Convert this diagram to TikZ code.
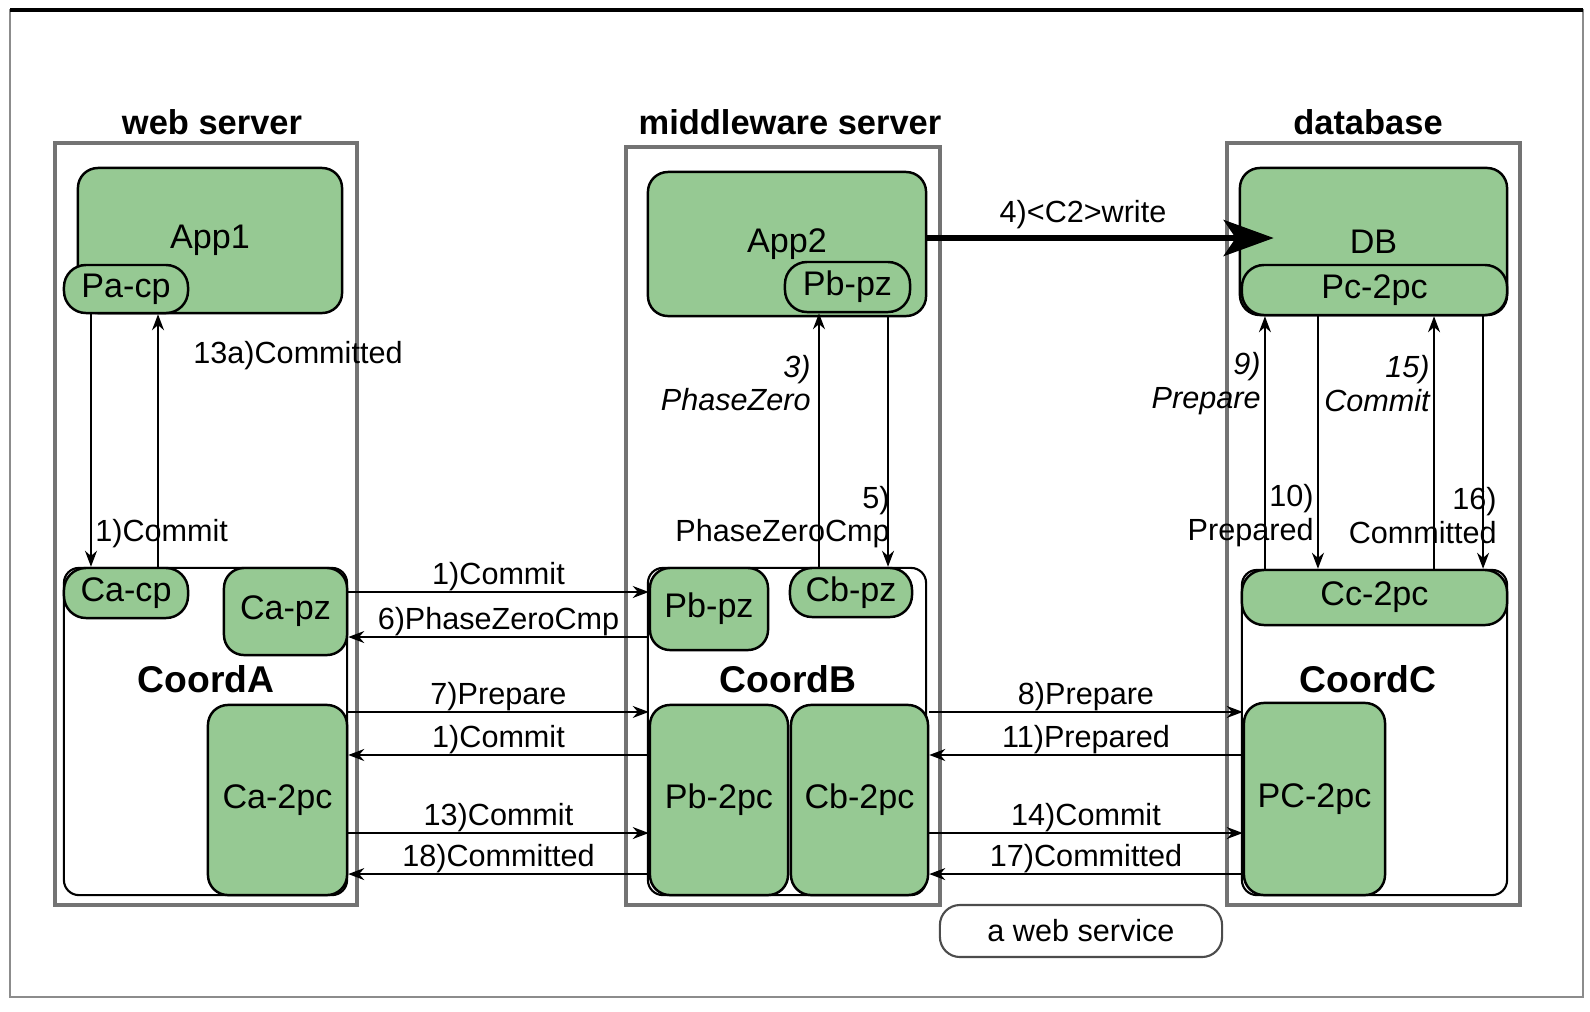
\documentclass[tikz,border=0pt]{standalone}
\usepackage{fontspec}
\setmainfont{Liberation Sans}
\usetikzlibrary{arrows.meta}

\definecolor{compgreen}{RGB}{150,201,147}

\tikzset{
	server/.style={draw=black!55, line width=1pt, inner sep=0pt},
	coord/.style={draw, fill=white, rounded corners=1.5mm, line width=0.6pt, inner sep=0pt},
	comp/.style={draw, fill=compgreen, rounded corners=2mm, line width=0.7pt, inner sep=0pt, font=\fontsize{9.7}{11}\selectfont},
	pill/.style={comp, rounded corners=2.2mm},
	msg/.style={-{Stealth[length=1.6mm,width=1.2mm]}, line width=0.5pt},
	bigmsg/.style={-{Stealth[length=5mm,width=3.6mm,inset=1.2mm]}, line width=1.6pt},
	lbl/.style={inner sep=1pt, font=\fontsize{8.7}{9.5}\selectfont},
	ital/.style={lbl, font=\fontsize{8.7}{9.5}\selectfont\itshape},
	head/.style={font=\bfseries\fontsize{9.8}{11}\selectfont},
	coordname/.style={font=\bfseries\fontsize{10.6}{12}\selectfont}
}

\begin{document}
\begin{tikzpicture}[x=0.01cm, y=-0.01cm]

	\useasboundingbox (0,0) rectangle (1590,1011);
	\draw[black!45, line width=0.8pt] (10,10) rectangle (1583,997);
	\draw[line width=1.3pt] (10,10) -- (1583,10);

	% servers
	\node (web) [server, minimum width=30.2mm, minimum height=76.2mm] at (206,524) {};
	\node (mid) [server, minimum width=31.4mm, minimum height=75.8mm] at (783,526) {};
	\node (dbs) [server, minimum width=29.3mm, minimum height=76.2mm] at (1373.5,524) {};
	\node (webhead) [head] at (212,122) {web server};
	\node (midhead) [head] at (790,122) {middleware server};
	\node (dbhead) [head] at (1368,122) {database};

	% coordinators
	\node (coorda) [coord, minimum width=28.3mm, minimum height=32.7mm] at (205.5,731.5) {};
	\node (coordb) [coord, minimum width=27.8mm, minimum height=32.7mm] at (787,731.5) {};
	\node (coordc) [coord, minimum width=26.5mm, minimum height=32.5mm] at (1374.5,732.5) {};
	\node (coordaname) [coordname] at (206,679) {CoordA};
	\node (coordbname) [coordname] at (788,679) {CoordB};
	\node (coordcname) [coordname] at (1368,679) {CoordC};

	% web server parts
	\node (app1) [comp, minimum width=26.4mm, minimum height=14.5mm] at (210,240.5) {App1};
	\node (pacp) [pill, minimum width=12.4mm, minimum height=4.8mm] at (126,289) {Pa-cp};
	\node (cacp) [pill, minimum width=12.4mm, minimum height=5mm] at (126,593) {Ca-cp};
	\node (capz) [comp, minimum width=12.3mm, minimum height=8.7mm] at (285.5,611.5) {Ca-pz};
	\node (ca2pc) [comp, minimum width=13.9mm, minimum height=19mm] at (277.5,800) {Ca-2pc};

	% middleware server parts
	\node (app2) [comp, minimum width=27.8mm, minimum height=14.4mm] at (787,244) {App2};
	\node (pbpzapp) [pill, minimum width=12.5mm, minimum height=5mm] at (847.5,287) {Pb-pz};
	\node (pbpz) [comp, minimum width=11.8mm, minimum height=8.2mm] at (709,609) {Pb-pz};
	\node (cbpz) [pill, minimum width=12.2mm, minimum height=4.9mm] at (851,592.5) {Cb-pz};
	\node (pb2pc) [comp, minimum width=13.8mm, minimum height=19mm] at (719,800) {Pb-2pc};
	\node (cb2pc) [comp, minimum width=13.7mm, minimum height=19mm] at (859.5,800) {Cb-2pc};

	% database parts
	\node (db) [comp, minimum width=26.7mm, minimum height=14.7mm] at (1373.5,241.5) {DB};
	\node (pc2pc) [pill, minimum width=26.5mm, minimum height=5mm] at (1374.5,290) {Pc-2pc};
	\node (cc2pc) [pill, minimum width=26.5mm, minimum height=5.5mm] at (1374.5,597.5) {Cc-2pc};
	\node (pc2pcc) [comp, minimum width=14.1mm, minimum height=19.2mm] at (1314.5,799) {PC-2pc};

	\node (websvc) [coord, draw=black!70, rounded corners=2mm, minimum width=28.2mm, minimum height=5.2mm, font=\fontsize{8.7}{10}\selectfont] at (1081,931) {a web service};

	% vertical messages
	\draw[msg] ([xshift=-3.5mm]pacp.south) -- ([xshift=-3.5mm]pacp.south |- cacp.north)
		node[lbl, pos=0.867, anchor=west] {1)Commit};
	\draw[msg] ([xshift=3.2mm]cacp.north) -- ([xshift=3.2mm]cacp.north |- pacp.south)
		node[lbl, pos=0.835, anchor=west, xshift=3.1mm] {13a)Committed};

	\draw[msg] ([xshift=-3.2mm]cbpz.north) -- ([xshift=-3.2mm]cbpz.north |- pbpzapp.south)
		node[ital, pos=0.725, anchor=east, align=right, xshift=-0.4mm] {3)\\PhaseZero};
	\draw[msg] ([xshift=3.7mm]cbpz.north |- app2.south) -- ([xshift=3.7mm]cbpz.north)
		node[lbl, pos=0.8, anchor=east, align=right, xshift=0.6mm] {5)\\PhaseZeroCmp};

	\draw[msg] ([xshift=-10.95mm]cc2pc.north) -- ([xshift=-10.95mm]cc2pc.north |- pc2pc.south)
		node[ital, pos=0.733, anchor=east, align=right] {9)\\Prepare};
	\draw[msg] ([xshift=-5.65mm]cc2pc.north |- pc2pc.south) -- ([xshift=-5.65mm]cc2pc.north)
		node[lbl, pos=0.79, anchor=east, align=right] {10)\\Prepared};
	\draw[msg] ([xshift=5.95mm]cc2pc.north) -- ([xshift=5.95mm]cc2pc.north |- pc2pc.south)
		node[ital, pos=0.733, anchor=east, align=right] {15)\\Commit};
	\draw[msg] ([xshift=10.85mm]cc2pc.north |- pc2pc.south) -- ([xshift=10.85mm]cc2pc.north)
		node[lbl, pos=0.79, anchor=east, align=right, xshift=1.8mm] {16)\\Committed};

	% web server <-> middleware server
	\draw[msg] ([yshift=1.95mm]capz.east) -- ([yshift=1.95mm]capz.east -| pbpz.west)
		node[lbl, midway, above=-0.3mm] {1)Commit};
	\draw[msg] ([yshift=-2.55mm]capz.east -| pbpz.west) -- ([yshift=-2.55mm]capz.east)
		node[lbl, midway, above=-0.3mm] {6)PhaseZeroCmp};
	\draw[msg] ([yshift=8.8mm]ca2pc.east) -- ([yshift=8.8mm]ca2pc.east -| pb2pc.west)
		node[lbl, midway, above=-0.3mm] {7)Prepare};
	\draw[msg] ([yshift=4.5mm]ca2pc.east -| pb2pc.west) -- ([yshift=4.5mm]ca2pc.east)
		node[lbl, midway, above=-0.3mm] {1)Commit};
	\draw[msg] ([yshift=-3.3mm]ca2pc.east) -- ([yshift=-3.3mm]ca2pc.east -| pb2pc.west)
		node[lbl, midway, above=-0.3mm] {13)Commit};
	\draw[msg] ([yshift=-7.4mm]ca2pc.east -| pb2pc.west) -- ([yshift=-7.4mm]ca2pc.east)
		node[lbl, midway, above=-0.3mm] {18)Committed};

	% middleware server <-> database
	\draw[msg] ([yshift=8.8mm]cb2pc.east) -- ([yshift=8.8mm]cb2pc.east -| pc2pcc.west)
		node[lbl, midway, above=-0.3mm] {8)Prepare};
	\draw[msg] ([yshift=4.5mm]cb2pc.east -| pc2pcc.west) -- ([yshift=4.5mm]cb2pc.east)
		node[lbl, midway, above=-0.3mm] {11)Prepared};
	\draw[msg] ([yshift=-3.3mm]cb2pc.east) -- ([yshift=-3.3mm]cb2pc.east -| pc2pcc.west)
		node[lbl, midway, above=-0.3mm] {14)Commit};
	\draw[msg] ([yshift=-7.4mm]cb2pc.east -| pc2pcc.west) -- ([yshift=-7.4mm]cb2pc.east)
		node[lbl, midway, above=-0.3mm] {17)Committed};

	\draw[bigmsg, shorten >=-3.5mm] ([yshift=0.6mm]app2.east) -- ([yshift=0.6mm]app2.east -| db.west)
		node[lbl, midway, above=0.3mm] {4)<C2>write};

\end{tikzpicture}
\end{document}
